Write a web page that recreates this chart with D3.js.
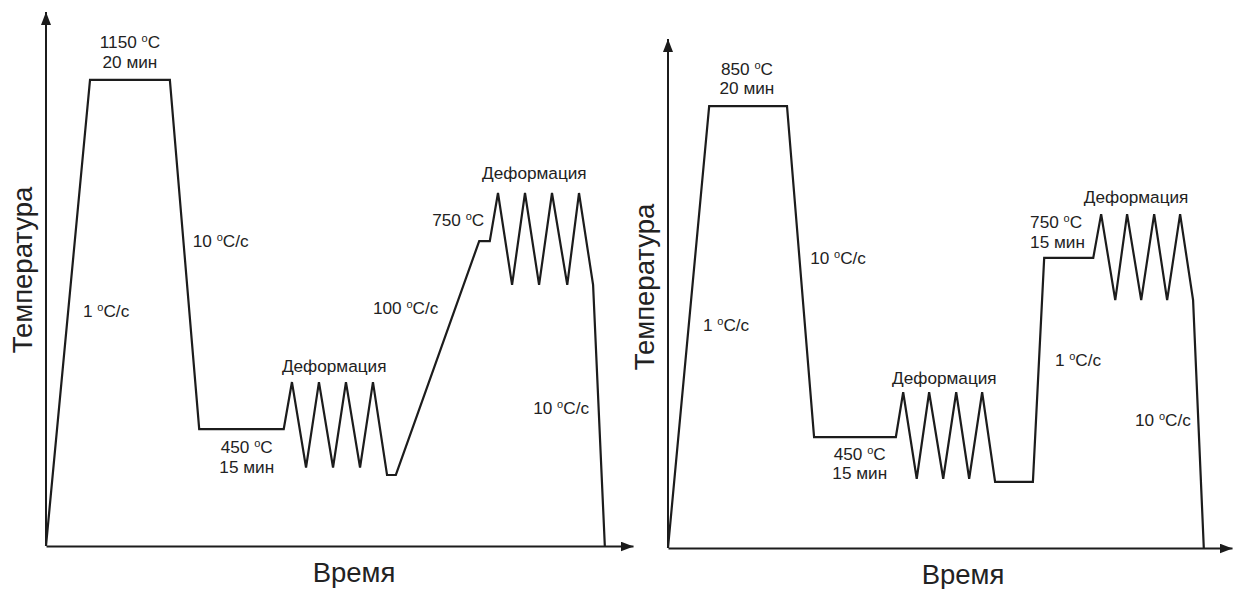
<!DOCTYPE html>
<html>
<head>
<meta charset="utf-8">
<script src="https://cdn.jsdelivr.net/npm/d3@7"></script>
<style>
  html, body { margin: 0; padding: 0; background: #fff; }
  svg { display: block; }
  text { font-family: "Liberation Sans", Arial, sans-serif; fill: #222; }
</style>
</head>
<body>
<svg id="chart" width="1246" height="589"></svg>
<script>
// Thermal schedules: time and temperature in relative schematic units (0–100)
const leftTime = [0, 7.5, 21.1, 26.1, 40.5, 41.9, 44.3, 46.5, 48.9, 51.1, 53.5, 55.7, 58.1, 59.6,
  73.8, 75.6, 77.0, 79.4, 81.6, 84.0, 86.2, 88.8, 90.8, 93.2, 95.2];
const leftTemp = [0, 87.3, 87.3, 21.9, 21.9, 30.7, 14.7, 30.7, 14.7, 30.7, 14.7, 30.7, 13.3, 13.3,
  57.1, 57.1, 66.1, 48.9, 66.1, 48.9, 66.1, 48.9, 66.1, 48.9, 0];

const rightTime = [0, 7.3, 21.1, 25.9, 40.4, 41.7, 44.1, 46.3, 48.8, 51.1, 53.4, 55.7, 58.0, 64.7,
  66.7, 75.4, 76.8, 79.3, 81.4, 83.9, 86.2, 88.5, 90.8, 93.1, 95.0];
const rightTemp = [0, 86.8, 86.8, 21.8, 21.8, 30.6, 13.6, 30.6, 13.6, 30.6, 13.6, 30.6, 13.0, 13.0,
  57.0, 57.0, 65.6, 48.7, 65.6, 48.7, 65.6, 48.7, 65.6, 48.7, 0];

// Annotations: text parts [main, superscript, rest], anchor in schematic units
const leftLabels = [
  { parts: ["1150 ", "o", "C"], t: 14.3, T: 94.4, anchor: "middle" },
  { parts: ["20 мин"], t: 14.3, T: 90.6, anchor: "middle" },
  { parts: ["10 ", "o", "C/с"], t: 25.0, T: 57.1, anchor: "start" },
  { parts: ["1 ", "o", "C/с"], t: 6.3, T: 44.0, anchor: "start" },
  { parts: ["450 ", "o", "C"], t: 34.2, T: 18.5, anchor: "middle" },
  { parts: ["15 мин"], t: 34.2, T: 14.8, anchor: "middle" },
  { parts: ["Деформация"], t: 49.1, T: 33.7, anchor: "middle" },
  { parts: ["100 ", "o", "C/с"], t: 55.7, T: 44.6, anchor: "start" },
  { parts: ["750 ", "o", "C"], t: 65.8, T: 61.0, anchor: "start" },
  { parts: ["Деформация"], t: 83.2, T: 69.9, anchor: "middle" },
  { parts: ["10 ", "o", "C/с"], t: 83.0, T: 25.8, anchor: "start" }
];
const rightLabels = [
  { parts: ["850 ", "o", "C"], t: 14.0, T: 94.1, anchor: "middle" },
  { parts: ["20 мин"], t: 14.0, T: 90.4, anchor: "middle" },
  { parts: ["10 ", "o", "C/с"], t: 25.2, T: 57.0, anchor: "start" },
  { parts: ["1 ", "o", "C/с"], t: 6.2, T: 43.8, anchor: "start" },
  { parts: ["450 ", "o", "C"], t: 34.0, T: 18.5, anchor: "middle" },
  { parts: ["15 мин"], t: 34.0, T: 14.7, anchor: "middle" },
  { parts: ["Деформация"], t: 49.0, T: 33.4, anchor: "middle" },
  { parts: ["750 ", "o", "C"], t: 64.2, T: 64.0, anchor: "start" },
  { parts: ["15 мин"], t: 64.2, T: 60.1, anchor: "start" },
  { parts: ["Деформация"], t: 83.0, T: 69.0, anchor: "middle" },
  { parts: ["1 ", "o", "C/с"], t: 68.6, T: 36.9, anchor: "start" },
  { parts: ["10 ", "o", "C/с"], t: 82.8, T: 25.1, anchor: "start" }
];

const xTitle = "Время";
const yTitle = "Температура";

const svg = d3.select("#chart");
const INK = "#1c1c1c";

svg.append("defs").append("marker")
  .attr("id", "arrow")
  .attr("viewBox", "0 0 13 10")
  .attr("refX", 13).attr("refY", 5)
  .attr("markerWidth", 13).attr("markerHeight", 10)
  .attr("markerUnits", "userSpaceOnUse")
  .attr("orient", "auto")
  .append("path")
  .attr("d", "M0,0 L13,5 L0,10 Z")
  .attr("fill", INK);

const panels = [
  { time: leftTime, temp: leftTemp, labels: leftLabels,
    left: 46, right: 633, bottom: 546, top: 12,
    yTitleX: 32, yTitleY: 270, xTitleX: 354, xTitleY: 582 },
  { time: rightTime, temp: rightTemp, labels: rightLabels,
    left: 668, right: 1232, bottom: 548, top: 39,
    yTitleX: 654, yTitleY: 287, xTitleX: 963, xTitleY: 584 }
];

panels.forEach(p => {
  const x = d3.scaleLinear().domain([0, 100]).range([p.left, p.right]);
  const y = d3.scaleLinear().domain([0, 100]).range([p.bottom, p.top]);
  const g = svg.append("g");

  // Axes without ticks, finished with arrowheads
  const xAxis = g.append("g")
    .attr("transform", `translate(0,${p.bottom})`)
    .call(d3.axisBottom(x).tickValues([]).tickSizeOuter(0));
  const yAxis = g.append("g")
    .attr("transform", `translate(${p.left},0)`)
    .call(d3.axisLeft(y).tickValues([]).tickSizeOuter(0));
  [xAxis, yAxis].forEach(a => a.select(".domain")
    .attr("stroke", INK).attr("stroke-width", 2)
    .attr("marker-end", "url(#arrow)"));
  // axisLeft draws its domain top-down; redraw bottom-up so the arrow points up
  yAxis.select(".domain").attr("d", `M0,${p.bottom}V${p.top}`);

  // Temperature–time profile
  const pts = p.time.map((t, i) => [t, p.temp[i]]);
  g.append("path")
    .datum(pts)
    .attr("fill", "none")
    .attr("stroke", INK)
    .attr("stroke-width", 2.2)
    .attr("stroke-linejoin", "miter")
    .attr("d", d3.line().x(d => x(d[0])).y(d => y(d[1])));

  // Annotations
  p.labels.forEach(l => {
    const txt = g.append("text")
      .attr("x", x(l.t)).attr("y", y(l.T))
      .attr("dy", "0.36em")
      .attr("text-anchor", l.anchor)
      .attr("font-size", 17.2);
    txt.append("tspan").text(l.parts[0]);
    if (l.parts.length > 1) {
      txt.append("tspan").attr("font-size", 11).attr("dy", -6).text(l.parts[1]);
      txt.append("tspan").attr("dy", 6).text(l.parts[2]);
    }
  });

  // Axis titles
  g.append("text")
    .attr("transform", `translate(${p.yTitleX},${p.yTitleY}) rotate(-90)`)
    .attr("text-anchor", "middle")
    .attr("font-size", 27.5)
    .text(yTitle);
  g.append("text")
    .attr("x", p.xTitleX).attr("y", p.xTitleY)
    .attr("text-anchor", "middle")
    .attr("font-size", 27.5)
    .text(xTitle);
});
</script>
</body>
</html>
